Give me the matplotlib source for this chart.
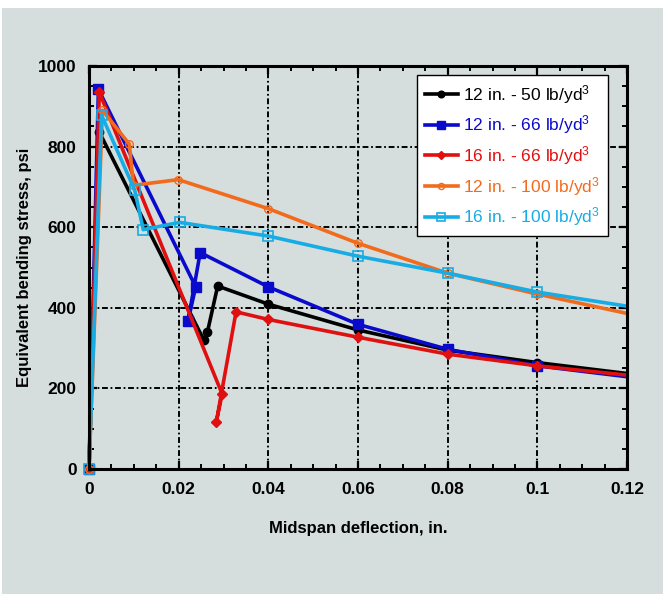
import matplotlib
matplotlib.use('Agg')
import matplotlib.pyplot as plt
from matplotlib.patches import Rectangle
from matplotlib.ticker import MultipleLocator

plt.rcParams['font.family'] = ['Liberation Sans', 'DejaVu Sans']
plt.rcParams['mathtext.default'] = 'regular'

BG = '#D5DEDD'

# data (deflection in., stress psi)
labels = ['12 in. - 50 lb/yd$^3$', '12 in. - 66 lb/yd$^3$', '16 in. - 66 lb/yd$^3$',
          '12 in. - 100 lb/yd$^3$', '16 in. - 100 lb/yd$^3$']

x_50_12 = [0, 0.0023, 0.0256, 0.0264, 0.0287, 0.04, 0.06, 0.08, 0.1, 0.12]
y_50_12 = [0, 836, 320, 339, 454, 409, 345, 295, 264, 237]

x_66_12 = [0, 0.0021, 0.0238, 0.0221, 0.0248, 0.04, 0.06, 0.08, 0.1, 0.12]
y_66_12 = [0, 942, 452, 368, 537, 452, 359, 297, 256, 229]

x_66_16 = [0, 0.0023, 0.0297, 0.0284, 0.0328, 0.04, 0.06, 0.08, 0.1, 0.12]
y_66_16 = [0, 935, 186, 117, 390, 371, 327, 285, 256, 233]

x_100_12 = [0, 0.0030, 0.0090, 0.0099, 0.0199, 0.04, 0.06, 0.08, 0.1, 0.12]
y_100_12 = [0, 890, 806, 704, 718, 646, 560, 486, 434, 386]

x_100_16 = [0, 0.0028, 0.0102, 0.0121, 0.0202, 0.04, 0.06, 0.08, 0.1, 0.12]
y_100_16 = [0, 878, 692, 594, 612, 578, 528, 486, 439, 404]

series = [
    (x_50_12, y_50_12, '#000000', dict(marker='o', ms=6, mfc='#000000')),
    (x_66_12, y_66_12, '#0A0ACC', dict(marker='s', ms=6.5, mfc='#0A0ACC')),
    (x_66_16, y_66_16, '#E01010', dict(marker='D', ms=5.5, mfc='#E01010')),
    (x_100_12, y_100_12, '#F26B1D', dict(marker='o', ms=5.5, mfc='none', mew=1.0)),
    (x_100_16, y_100_16, '#18ACE4', dict(marker='s', ms=6.5, mfc='none', mew=1.2)),
]

fig = plt.figure(figsize=(6.66, 5.94), dpi=100, facecolor='white')
fig.patches.append(Rectangle((2 / 666, 0), 661 / 666, 586 / 594,
                             transform=fig.transFigure, fc=BG, ec='none', zorder=-10))

ax = fig.add_axes([89 / 666, 1 - 469 / 594, 538 / 666, 403 / 594])
ax.set_facecolor(BG)

for (xs, ys, c, mk), lab in zip(series, labels):
    ax.plot(xs, ys, color=c, lw=2.6, mec=c, label=lab, clip_on=False,
            markevery=slice(0, len(xs) - 1), **mk)

ax.set_xlim(0, 0.12)
ax.set_ylim(0, 1000)
ax.set_xticks([0, 0.02, 0.04, 0.06, 0.08, 0.1, 0.12])
ax.set_xticklabels(['0', '0.02', '0.04', '0.06', '0.08', '0.1', '0.12'])
ax.xaxis.set_minor_locator(MultipleLocator(0.005))
ax.yaxis.set_major_locator(MultipleLocator(200))
ax.yaxis.set_minor_locator(MultipleLocator(50))

ax.grid(True, which='major', color='black', lw=1.4, ls=(0, (3.0, 1.4, 0.9, 1.4)))
ax.set_axisbelow(True)
ax.tick_params(which='both', direction='in', top=True, right=True, color='black')
ax.tick_params(which='major', length=6, width=1.6, pad=9, labelsize=12.5)
ax.tick_params(which='minor', length=3.5, width=1.4)
for lbl in ax.get_xticklabels() + ax.get_yticklabels():
    lbl.set_fontweight('bold')
for sp in ax.spines.values():
    sp.set_linewidth(2.2)
    sp.set_zorder(5)

ax.set_xlabel('Midspan deflection, in.', fontsize=12, fontweight='bold', labelpad=18)
ax.set_ylabel('Equivalent bending stress, psi', fontsize=12, fontweight='bold', labelpad=4)

leg = ax.legend(loc='upper right', bbox_to_anchor=(0.964, 0.978), borderaxespad=0,
                fontsize=12.5, frameon=True, fancybox=False, handlelength=1.9,
                handletextpad=0.3, labelspacing=0.45, borderpad=0.45, markerscale=0.8)
leg.get_frame().set_edgecolor('black')
leg.get_frame().set_linewidth(1.0)
leg.get_frame().set_facecolor('white')
leg.get_frame().set_alpha(1)
leg.set_zorder(10)
for txt, s in zip(leg.get_texts(), series):
    txt.set_color(s[2])

fig.savefig('out.png', dpi=100, facecolor=fig.get_facecolor())
